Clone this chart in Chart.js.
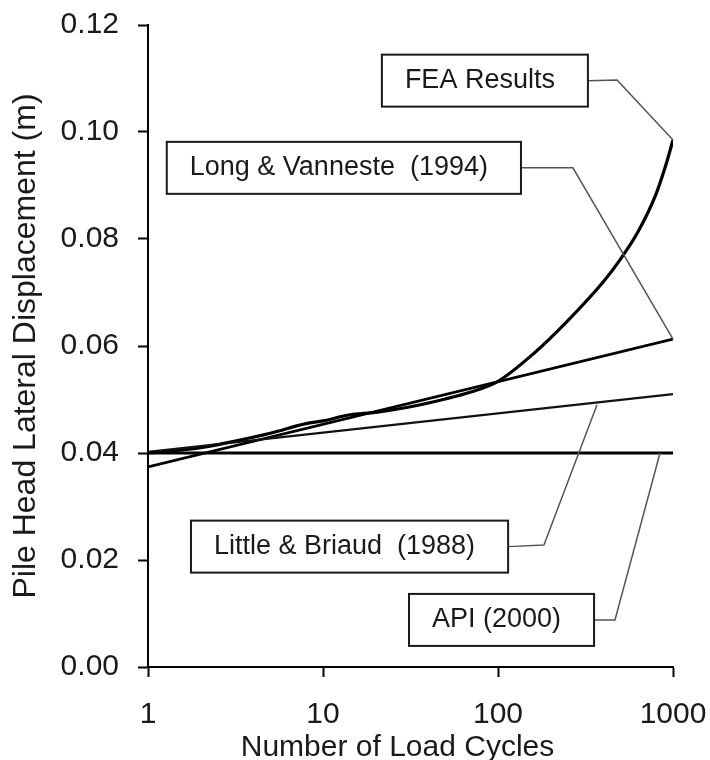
<!DOCTYPE html>
<html>
<head>
<meta charset="utf-8">
<script src="https://cdn.jsdelivr.net/npm/chart.js@4"></script>
<style>
  html, body { margin: 0; padding: 0; background: #ffffff; }
  #wrap { width: 710px; height: 760px; }
</style>
</head>
<body>
<div id="wrap"><canvas id="c" width="710" height="760"></canvas></div>
<script>
// ---- data ----
const feaCycles = [1, 2, 3, 5, 8, 10, 14, 20, 30, 50, 70, 100, 160, 250, 400, 500, 630, 800, 900, 1000];
const feaDisp   = [0.0400, 0.0410, 0.0421, 0.0437, 0.0455, 0.0460, 0.0471, 0.0476, 0.0485, 0.0501, 0.0514, 0.0534, 0.0586, 0.0647, 0.0720, 0.0762, 0.0813, 0.0884, 0.0933, 0.0985];

const lineCycles   = [1, 1000];
const longDisp     = [0.0374, 0.0613];
const littleDisp   = [0.0402, 0.0510];
const apiDisp      = [0.0400, 0.0400];

const xTickValues = [1, 10, 100, 1000];
const yTickValues = [0, 0.02, 0.04, 0.06, 0.08, 0.10, 0.12];

const xTitle = 'Number of Load Cycles';
const yTitle = 'Pile Head Lateral Displacement (m)';

// callouts: label, anchor on the curve (data), elbow (data), box left edge + box centre (data)
const calloutLabels  = ["FEA Results", "Long & Vanneste  (1994)", "Little & Briaud  (1988)", "API (2000)"];
const calloutAnchorX = [1000, 1000, 368, 843];
const calloutAnchorY = [0.0985, 0.0613, 0.0490, 0.0400];
const calloutElbowX  = [479, 268, 183, 466];
const calloutElbowY  = [0.1097, 0.0933, 0.0228, 0.0088];
const calloutBoxX    = [21.7, 1.28, 1.76, 31.0];
const calloutBoxY    = [0.1096, 0.0933, 0.0225, 0.0088];

const toXY = (xs, ys) => xs.map((x, i) => ({ x: x, y: ys[i] }));

const FONT = "'Liberation Sans', Arial, 'DejaVu Sans', sans-serif";

const calloutPlugin = {
  id: 'callouts',
  afterDatasetsDraw(chart) {
    const ctx = chart.ctx, xs = chart.scales.x, ys = chart.scales.y;
    ctx.save();
    ctx.font = "27px " + FONT;
    for (let i = 0; i < calloutLabels.length; i++) {
      const bx = xs.getPixelForValue(calloutBoxX[i]);
      const by = ys.getPixelForValue(calloutBoxY[i]);
      const tw = ctx.measureText(calloutLabels[i]).width;
      const w = tw + 56, h = 52;
      const ex = xs.getPixelForValue(calloutElbowX[i]);
      const ey = ys.getPixelForValue(calloutElbowY[i]);
      const ax = xs.getPixelForValue(calloutAnchorX[i]);
      const ay = ys.getPixelForValue(calloutAnchorY[i]);
      ctx.strokeStyle = '#555555';
      ctx.lineWidth = 1.5;
      ctx.beginPath();
      ctx.moveTo(bx + w, by);
      ctx.lineTo(ex, ey);
      ctx.lineTo(ax, ay);
      ctx.stroke();
      ctx.fillStyle = '#ffffff';
      ctx.fillRect(bx, by - h / 2, w, h);
      ctx.strokeStyle = '#1a1a1a';
      ctx.lineWidth = 2;
      ctx.strokeRect(bx, by - h / 2, w, h);
      ctx.fillStyle = '#1a1a1a';
      ctx.textAlign = 'left';
      ctx.textBaseline = 'middle';
      ctx.fillText(calloutLabels[i], bx + 23, by);
    }
    // x-axis title (slightly left of centre, as in the reference)
    const a = chart.chartArea;
    ctx.font = "30px " + FONT;
    ctx.textAlign = 'center';
    ctx.textBaseline = 'alphabetic';
    ctx.fillStyle = '#1a1a1a';
    ctx.fillText(xTitle, (a.left + a.right) / 2 - 13, 756);
    ctx.restore();
  }
};

const ds = (label, data, width, color) => ({
  label: label, data: data, borderColor: color, backgroundColor: color,
  borderWidth: width, pointRadius: 0, fill: false, tension: 0
});

new Chart(document.getElementById('c'), {
  type: 'line',
  data: {
    datasets: [
      ds('API (2000)', toXY(lineCycles, apiDisp), 3, '#000000'),
      ds('Little & Briaud (1988)', toXY(lineCycles, littleDisp), 2.2, '#111111'),
      ds('Long & Vanneste (1994)', toXY(lineCycles, longDisp), 2.6, '#000000'),
      Object.assign(ds('FEA Results', toXY(feaCycles, feaDisp), 3.2, '#000000'), { cubicInterpolationMode: 'monotone' })
    ]
  },
  options: {
    responsive: false,
    animation: false,
    devicePixelRatio: 1,
    layout: { padding: { left: 0, right: 37, top: 25, bottom: 0 } },
    plugins: { legend: { display: false }, tooltip: { enabled: false } },
    scales: {
      x: {
        type: 'logarithmic',
        min: 1, max: 1000,
        afterBuildTicks(scale) { scale.ticks = xTickValues.map(v => ({ value: v })); },
        afterFit(scale) { scale.height = 93; scale.paddingLeft = 0; scale.paddingRight = 0; },
        border: { display: true, color: '#000000', width: 2 },
        grid: { display: true, drawOnChartArea: false, drawTicks: true, tickLength: 10, tickWidth: 2, tickColor: '#000000' },
        ticks: {
          color: '#1a1a1a', padding: 20, maxRotation: 0, autoSkip: false,
          font: { family: FONT, size: 30 },
          callback: (v) => String(v)
        },
        title: { display: false, text: xTitle }
      },
      y: {
        type: 'linear',
        min: 0, max: 0.12,
        afterBuildTicks(scale) { scale.ticks = yTickValues.map(v => ({ value: v })); },
        afterFit(scale) { scale.width = 148; scale.paddingTop = 0; scale.paddingBottom = 0; },
        border: { display: true, color: '#000000', width: 2 },
        grid: { display: true, drawOnChartArea: false, drawTicks: true, tickLength: 10, tickWidth: 2, tickColor: '#000000' },
        ticks: {
          color: '#1a1a1a', padding: 19,
          font: { family: FONT, size: 30 },
          callback: (v) => Number(v).toFixed(2)
        },
        title: {
          display: true, text: yTitle, color: '#1a1a1a',
          font: { family: FONT, size: 32, lineHeight: 1.2 }, padding: { top: 7, bottom: 0 }
        }
      }
    }
  },
  plugins: [calloutPlugin]
});
</script>
</body>
</html>
